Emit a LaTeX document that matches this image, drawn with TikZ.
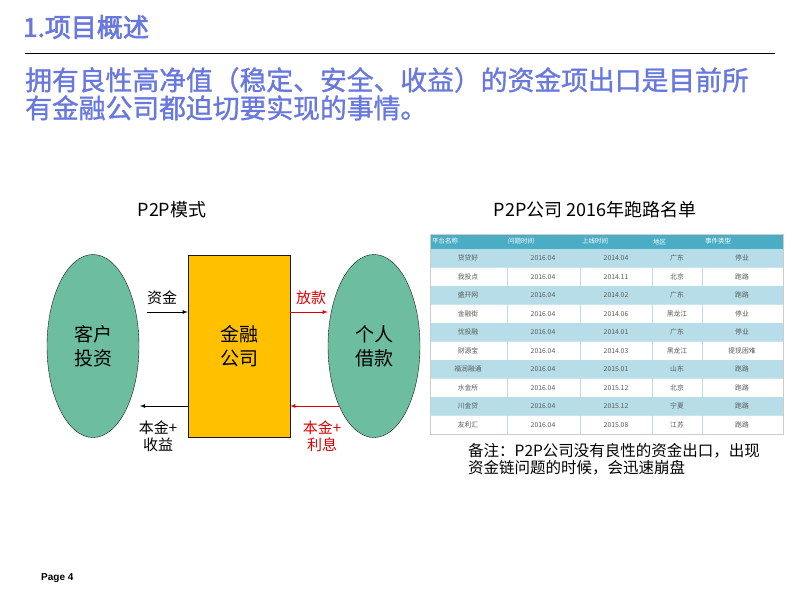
\documentclass[tikz,border=0pt]{standalone}
\usepackage{fontspec}
\setmainfont{Noto Sans CJK SC}
\newfontfamily\boldcjk[FakeBold=1.2]{Noto Sans CJK SC}
\newfontfamily\heavycjk[FakeBold=2.5]{Noto Sans CJK SC}
\newfontfamily\pagefont{Liberation Sans}
\usetikzlibrary{shapes.geometric,arrows}
\definecolor{titleblue}{RGB}{104,120,222}
\definecolor{ovalgreen}{RGB}{109,190,160}
\definecolor{boxorange}{RGB}{255,192,0}
\definecolor{loanred}{RGB}{222,0,0}
\definecolor{headteal}{RGB}{75,172,198}
\definecolor{rowblue}{RGB}{183,222,232}

\begin{document}
\begin{tikzpicture}[x=1pt,y=-1pt,
	oval/.style={ellipse,draw=black!90,fill=ovalgreen,minimum width=92pt,minimum height=183pt,inner sep=0pt,align=center,font=\fontsize{19}{24}\selectfont},
	flow/.style={-latex,thick},
	lbl/.style={font=\fontsize{15}{17}\selectfont,align=center,inner sep=0pt}]
	\useasboundingbox[fill=white](0,0) rectangle (800,600);
	% heading
	\node[anchor=west,inner sep=0pt,text=titleblue,font=\heavycjk\fontsize{26}{28}\selectfont] (title) at (23,27) {1.项目概述};
	\draw[thick] (25,53) -- (775,53);
	\node[anchor=north west,inner sep=0pt,text=titleblue,align=left,font=\boldcjk\fontsize{26.8}{28}\selectfont] (intro) at (25,67)
		{拥有良性高净值（稳定、安全、收益）的资金项出口是目前所\\有金融公司都迫切要实现的事情。};
	% P2P model
	\node[font=\fontsize{18}{20}\selectfont] (modeltitle) at (172,210) {P2P模式};
	\node[oval] (investor) at (93,346) {客户\\投资};
	\node[oval] (borrower) at (374,346) {个人\\借款};
	\node[draw=black!90,fill=boxorange,minimum width=102pt,minimum height=182pt,inner sep=0pt,align=center,font=\fontsize{19}{24}\selectfont] (company) at (239,346) {金融\\公司};
	\coordinate (fundin) at (147,312);
	\coordinate (repayout) at (140,406);
	\draw[flow] (fundin) -- (fundin -| company.west);
	\draw[flow,loanred] (company.east |- fundin) -- (borrower.west |- fundin);
	\draw[flow] (company.west |- repayout) -- (repayout);
	\draw[flow,loanred] (339,406) -- (company.east |- repayout);
	\node[lbl] (fundlbl) at (162,298) {资金};
	\node[lbl,text=loanred] (loanlbl) at (311,298) {放款};
	\node[lbl] (returnlbl) at (158,436) {本金+\\收益};
	\node[lbl,text=loanred] (interestlbl) at (322,436) {本金+\\利息};
	% run-away list
	\node[font=\fontsize{18}{20}\selectfont] (listtitle) at (595,210) {P2P公司 2016年跑路名单};
	\fill[headteal] (430,234) rectangle (783,249);
	\foreach \x/\head in {432/平台名称,508/问题时间,582/上线时间,653/地区,705/事件类型}
		\node[anchor=west,inner sep=0pt,text=white,font=\fontsize{6.5}{7}\selectfont] at (\x,241.5) {\head};
	\foreach \pname/\qtime/\ltime/\area/\kind [count=\i] in {
		贷贷好/2016.04/2014.04/广东/停业,
		我投点/2016.04/2014.11/北京/跑路,
		盛开网/2016.04/2014.02/广东/跑路,
		金融街/2016.04/2014.06/黑龙江/停业,
		优投融/2016.04/2014.01/广东/停业,
		财源宝/2016.04/2014.03/黑龙江/提现困难,
		福润融通/2016.04/2015.01/山东/跑路,
		水金所/2016.04/2015.12/北京/跑路,
		川金贷/2016.04/2015.12/宁夏/跑路,
		友利汇/2016.04/2015.08/江苏/跑路}
	{
		\pgfmathsetmacro{\ytop}{249+(\i-1)*18.5}
		\pgfmathsetmacro{\ymid}{\ytop+9.25}
		\ifodd\i \fill[rowblue] (430,\ytop) rectangle (783,\ytop+18.5); \fi
		\draw[white!70!headteal] (430,\ytop+18.5) -- (783,\ytop+18.5);
		\begin{scope}[every node/.style={inner sep=0pt,text=black!65,font=\fontsize{6.8}{7}\selectfont}]
			\node at (468,\ymid) {\pname};
			\node at (543,\ymid) {\qtime};
			\node at (616,\ymid) {\ltime};
			\node at (677,\ymid) {\area};
			\node at (742,\ymid) {\kind};
		\end{scope}
	}
	\foreach \x in {507,580,652,702}
		\draw[white!60!headteal] (\x,249) -- (\x,434);
	\draw[black!20] (430,234) rectangle (783,434);
	\node[anchor=north west,inner sep=0pt,align=left,font=\fontsize{15.5}{17}\selectfont] (note) at (468,443)
		{备注：P2P公司没有良性的资金出口，出现\\资金链问题的时候，会迅速崩盘};
	% footer
	\node[anchor=west,inner sep=0pt,font=\pagefont\bfseries\fontsize{10}{11}\selectfont] (page) at (41,578) {Page 4};
\end{tikzpicture}
\end{document}
